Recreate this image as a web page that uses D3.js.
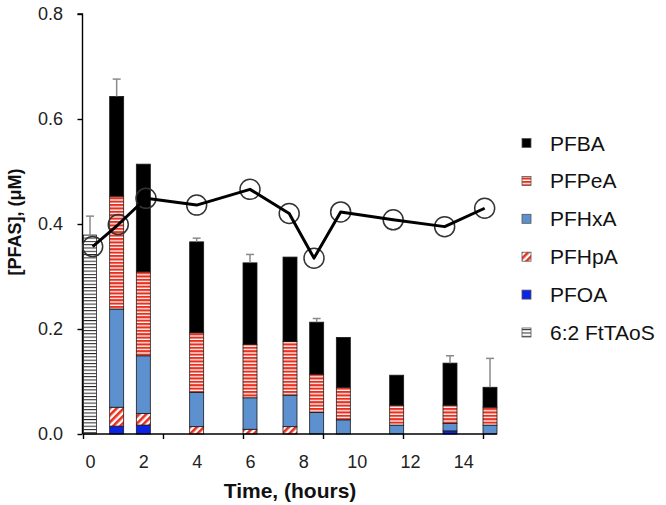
<!DOCTYPE html>
<html><head><meta charset="utf-8">
<script src="https://cdn.jsdelivr.net/npm/d3@7"></script>
<style>
html,body{margin:0;padding:0;background:#fff;}
svg{display:block;font-family:"Liberation Sans",Arial,Helvetica,sans-serif;}
</style></head>
<body>
<svg id="chart" width="666" height="505"></svg>
<script>
// ---- data ----
const barTimes = [1, 2, 4, 6, 7.5, 8.5, 9.5, 11.5, 13.5, 15];
const PFOA  = [0.015, 0.017, 0, 0, 0, 0, 0, 0, 0.006, 0];
const PFHpA = [0.036, 0.022, 0.014, 0.009, 0.014, 0, 0, 0, 0, 0];
const PFHxA = [0.187, 0.110, 0.065, 0.060, 0.060, 0.041, 0.027, 0.017, 0.014, 0.017];
const PFPeA = [0.215, 0.160, 0.114, 0.102, 0.102, 0.073, 0.062, 0.038, 0.035, 0.034];
const PFBA  = [0.190, 0.205, 0.173, 0.155, 0.161, 0.099, 0.095, 0.057, 0.080, 0.038];
const errTop = [0.676, null, 0.373, 0.342, null, 0.220, null, null, 0.149, 0.144];

const ftTime = [0];
const ftValue = [0.379];
const ftErrTop = [0.415];

const lineTimes = [0.1, 1.06, 2.1, 4.0, 6.0, 7.47, 8.4, 9.4, 11.37, 13.3, 14.8];
const lineValues = [0.357, 0.399, 0.449, 0.436, 0.466, 0.420, 0.335, 0.423, 0.408, 0.395, 0.430];

const seriesNames = ["PFBA", "PFPeA", "PFHxA", "PFHpA", "PFOA", "6:2 FtTAoS"];
const stackOrder = ["PFOA", "PFHpA", "PFHxA", "PFPeA", "PFBA"];
const xTickLabels = [0, 2, 4, 6, 8, 10, 12, 14];
const xTickMarks = [-0.2625, 2.7375, 5.7375, 8.7375, 11.7375, 14.7375];
const yTicks = [0, 0.2, 0.4, 0.6, 0.8];
const xTitle = "Time, (hours)";
const yTitle = "[PFAS], (\u03bcM)";

// ---- build ----
const svg = d3.select("#chart");
const x = d3.scaleLinear().domain([0, 15]).range([90, 490]);
const y = d3.scaleLinear().domain([0, 0.8]).range([434, 14]);
const xMin = -0.2625, xMax = 15.26;

const defs = svg.append("defs");
// horizontal red stripes
const pPe = defs.append("pattern").attr("id","pPe").attr("patternUnits","userSpaceOnUse")
  .attr("width",4).attr("height",3.4);
pPe.append("rect").attr("width",4).attr("height",3.4).attr("fill","#fff");
pPe.append("rect").attr("width",4).attr("height",2.1).attr("fill","#e8301f");
// diagonal red stripes
const pHp = defs.append("pattern").attr("id","pHp").attr("patternUnits","userSpaceOnUse")
  .attr("width",5).attr("height",5).attr("patternTransform","rotate(45)");
pHp.append("rect").attr("width",5).attr("height",5).attr("fill","#fff");
pHp.append("rect").attr("width",2.6).attr("height",5).attr("fill","#e8301f");
// thin black horizontal lines
const pFt = defs.append("pattern").attr("id","pFt").attr("patternUnits","userSpaceOnUse")
  .attr("width",4).attr("height",3.3);
pFt.append("rect").attr("width",4).attr("height",3.3).attr("fill","#fff");
pFt.append("rect").attr("width",4).attr("height",1).attr("fill","#222");

const fills = {
  "PFBA": "#000000",
  "PFPeA": "url(#pPe)",
  "PFHxA": "#5c90cf",
  "PFHpA": "url(#pHp)",
  "PFOA": "#0b24e6",
  "6:2 FtTAoS": "url(#pFt)"
};

const table = barTimes.map((t, i) => ({t, PFOA: PFOA[i], PFHpA: PFHpA[i], PFHxA: PFHxA[i], PFPeA: PFPeA[i], PFBA: PFBA[i], err: errTop[i]}));
const stacked = d3.stack().keys(stackOrder)(table);
const barW = 14;

// bars
const gBars = svg.append("g");
stacked.forEach(layer => {
  gBars.append("g").selectAll("rect").data(layer.filter(d => d[1] - d[0] > 0)).join("rect")
    .attr("x", d => x(d.data.t) - barW/2)
    .attr("width", barW)
    .attr("y", d => y(d[1]))
    .attr("height", d => y(d[0]) - y(d[1]))
    .attr("fill", fills[layer.key])
    .attr("stroke", "#1a1a1a").attr("stroke-width", 0.8);
});
// FtTAoS bar
gBars.selectAll("rect.ft").data(ftTime.map((t,i)=>({t, v: ftValue[i], e: ftErrTop[i]}))).join("rect")
  .attr("class","ft")
  .attr("x", d => x(d.t) - 6.5).attr("width", 13)
  .attr("y", d => y(d.v)).attr("height", d => y(0) - y(d.v))
  .attr("fill", fills["6:2 FtTAoS"]).attr("stroke", "#222").attr("stroke-width", 0.8);

// error bars
const errData = table.filter(d => d.err != null).map(d => ({t: d.t, top: d.PFOA+d.PFHpA+d.PFHxA+d.PFPeA+d.PFBA, e: d.err}))
  .concat(ftTime.map((t,i)=>({t, top: ftValue[i], e: ftErrTop[i]})));
const gErr = svg.append("g").attr("stroke", "#8a8a8a").attr("stroke-width", 1.5);
errData.forEach(d => {
  gErr.append("line").attr("x1", x(d.t)).attr("x2", x(d.t)).attr("y1", y(d.top)).attr("y2", y(d.e));
  gErr.append("line").attr("x1", x(d.t)-4).attr("x2", x(d.t)+4).attr("y1", y(d.e)).attr("y2", y(d.e));
});

// axes
const yAxis = svg.append("g").attr("transform", "translate(82.5,0)")
  .call(d3.axisLeft(y).tickValues(yTicks).tickFormat(d3.format(".1f")).tickSize(5).tickPadding(14.5));
yAxis.select(".domain").attr("d", `M-5,${y(0.8)}H0V${y(0)}`);
const xAxis = svg.append("g").attr("transform", "translate(0,434)")
  .call(d3.axisBottom(x).tickValues(xTickMarks).tickFormat("").tickSize(5).tickSizeOuter(0));
xAxis.select(".domain").attr("d", `M${x(xMin)},0H${x(xMax)}`);
const xLab = svg.append("g").attr("transform", "translate(0,434)")
  .call(d3.axisBottom(x).tickValues(xTickLabels).tickFormat(d3.format("d")).tickSize(0).tickPadding(21));
xLab.select(".domain").remove();
[yAxis, xAxis, xLab].forEach(g => {
  g.selectAll("path,line").attr("stroke", "#000").attr("stroke-width", 1.4);
  g.selectAll("text").attr("font-size", 18).attr("font-family", "Liberation Sans, Arial, sans-serif").attr("fill", "#222");
});

// line with circles
const line = d3.line().x(d => x(d[0])).y(d => y(d[1]));
const pts = lineTimes.map((t, i) => [t, lineValues[i]]);
svg.append("g").selectAll("circle").data(pts).join("circle")
  .attr("cx", d => x(d[0])).attr("cy", d => y(d[1])).attr("r", 10)
  .attr("fill", "none").attr("stroke", "#333").attr("stroke-width", 1.5);
svg.append("path").datum(pts).attr("d", line)
  .attr("fill", "none").attr("stroke", "#000").attr("stroke-width", 3).attr("stroke-linejoin", "round");

// titles
svg.append("text").attr("x", 290).attr("y", 498).attr("text-anchor", "middle")
  .attr("font-size", 21).attr("font-weight", "bold").attr("fill", "#111").text(xTitle);
svg.append("text").attr("transform", "translate(21,222) rotate(-90)").attr("text-anchor", "middle")
  .attr("font-size", 18).attr("font-weight", "bold").attr("fill", "#111").text(yTitle);

// legend
const leg = svg.append("g").selectAll("g").data(seriesNames).join("g")
  .attr("transform", (d, i) => `translate(522,${143 + i * 37.9})`);
leg.append("rect").attr("x", 0).attr("y", -4.5).attr("width", 9).attr("height", 9)
  .attr("fill", d => fills[d]).attr("stroke", "#555").attr("stroke-width", 0.8);
leg.append("text").attr("x", 28).attr("y", 7.5).attr("font-size", 21).attr("fill", "#111").text(d => d);
</script>
</body></html>
